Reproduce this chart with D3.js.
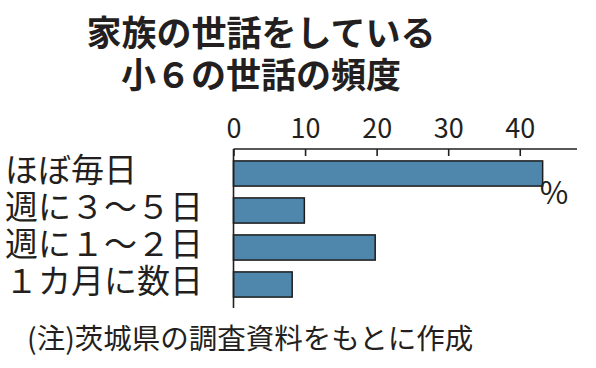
<!DOCTYPE html>
<html lang="ja">
  <head>
    <meta charset="utf-8">
    <title>小６の世話の頻度</title>
    <style>
      body { margin: 0; background: #fff; }
      svg { display: block; font-family: "Noto Sans CJK JP", sans-serif; }
      .title { font-weight: 700; font-size: 35px; fill: #231f20; }
      .cat { font-size: 33px; fill: #231f20; }
      .unit { font-size: 31px; fill: #231f20; }
      .note { font-size: 28.5px; fill: #231f20; }
      .axis text { font-size: 27px; fill: #231f20; font-family: "Noto Sans CJK JP", sans-serif; }
      .axis path, .axis line { stroke: #231f20; stroke-width: 1.6; }
    </style>
  </head>
  <body>
    <svg></svg>
    <script src="https://cdn.jsdelivr.net/npm/d3@7"></script>
    <script>
    // data
    var categories = ["ほぼ毎日", "週に３～５日", "週に１～２日", "１カ月に数日"];
    var values = [43.2, 9.9, 19.8, 8.2];
    var tickValues = [0, 10, 20, 30, 40];
    var titleLines = ["家族の世話をしている", "小６の世話の頻度"];
    var note = "(注)茨城県の調査資料をもとに作成";

    var width = 596, height = 368;
    var svg = d3.select("svg").attr("width", width).attr("height", height);

    var x = d3.scaleLinear().domain([0, 48]).range([233.5, 577]);
    var y = d3.scaleBand().domain(categories).range([155, 303])
      .paddingInner(0.32).paddingOuter(0.16);

    // title
    svg.selectAll("text.title")
      .data(titleLines)
      .enter().append("text")
      .attr("class", "title")
      .attr("x", 261)
      .attr("y", function(d, i){ return 46 + i * 42; })
      .attr("text-anchor", "middle")
      .text(function(d){ return d; });

    // axis on top
    var axis = d3.axisTop(x)
      .tickValues(tickValues)
      .tickSizeInner(-7)
      .tickSizeOuter(0)
      .tickPadding(11);
    svg.append("g")
      .attr("class", "axis")
      .attr("transform", "translate(0,149)")
      .call(axis)
      .call(function(g){ g.select(".domain").attr("d", "M" + x(0) + ",0H" + x(48)); });

    // bars
    svg.selectAll("rect.bar")
      .data(values)
      .enter().append("rect")
      .attr("class", "bar")
      .attr("x", x(0))
      .attr("y", function(d, i){ return y(categories[i]); })
      .attr("width", function(d){ return x(d) - x(0); })
      .attr("height", y.bandwidth())
      .attr("fill", "#4f86ab")
      .attr("stroke", "#1c1c1c")
      .attr("stroke-width", 1.5);

    // vertical baseline
    svg.append("line")
      .attr("x1", x(0)).attr("x2", x(0))
      .attr("y1", 149).attr("y2", 308)
      .attr("stroke", "#231f20").attr("stroke-width", 1.6);

    // category labels
    svg.selectAll("text.cat")
      .data(categories)
      .enter().append("text")
      .attr("class", "cat")
      .attr("x", 5)
      .attr("y", function(d){ return y(d) + y.bandwidth() / 2 + 8; })
      .text(function(d){ return d; });

    // % unit
    svg.append("text")
      .attr("class", "unit")
      .attr("x", x(values[0]) - 3)
      .attr("y", 204)
      .text("%");

    // note
    svg.append("text")
      .attr("class", "note")
      .attr("x", 27)
      .attr("y", 349)
      .text(note);
    </script>
  </body>
</html>
